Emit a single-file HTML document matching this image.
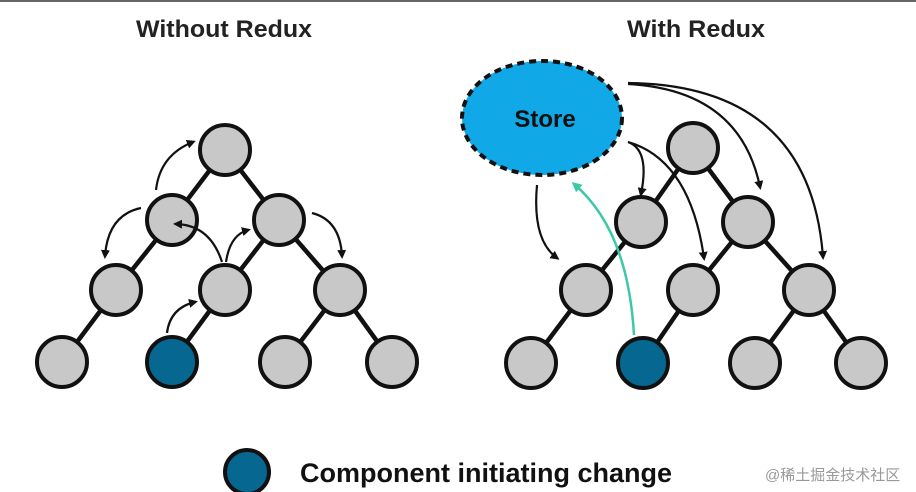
<!DOCTYPE html>
<html><head><style>
html,body{margin:0;padding:0;background:#fff;}
svg{display:block;}
text{font-family:"Liberation Sans",sans-serif;font-weight:bold;}
</style></head><body>
<svg width="916" height="492" viewBox="0 0 916 492" xmlns="http://www.w3.org/2000/svg">
<defs>
<marker id="a" markerWidth="9" markerHeight="9" refX="6" refY="4.5" orient="auto" markerUnits="userSpaceOnUse"><path d="M0,0 L9,4.5 L0,9 z" fill="#111"/></marker>
<marker id="t" markerWidth="10" markerHeight="10" refX="7" refY="5" orient="auto" markerUnits="userSpaceOnUse"><path d="M0,0 L10,5 L0,10 z" fill="#3cc9a8"/></marker>
</defs>
<rect x="0" y="0" width="916" height="2" fill="#666"/>
<text x="224" y="37" font-size="24" text-anchor="middle" fill="#222" textLength="176" lengthAdjust="spacingAndGlyphs">Without Redux</text>
<text x="696" y="37" font-size="24" text-anchor="middle" fill="#222" textLength="138" lengthAdjust="spacingAndGlyphs">With Redux</text>
<g stroke="#111" stroke-width="4.5">
<line x1="225" y1="150" x2="172" y2="220"/><line x1="225" y1="150" x2="279" y2="220"/>
<line x1="172" y1="220" x2="116" y2="290"/><line x1="279" y1="220" x2="225" y2="290"/><line x1="279" y1="220" x2="340" y2="290"/>
<line x1="116" y1="290" x2="62" y2="362"/><line x1="225" y1="290" x2="172" y2="362"/>
<line x1="340" y1="290" x2="285" y2="362"/><line x1="340" y1="290" x2="392" y2="362"/>
<line x1="693" y1="148" x2="641" y2="222"/><line x1="693" y1="148" x2="748" y2="222"/>
<line x1="641" y1="222" x2="586" y2="290"/><line x1="748" y1="222" x2="693" y2="290"/><line x1="748" y1="222" x2="809" y2="290"/>
<line x1="586" y1="290" x2="531" y2="363"/><line x1="693" y1="290" x2="643" y2="363"/>
<line x1="809" y1="290" x2="755" y2="363"/><line x1="809" y1="290" x2="861" y2="363"/>
</g>
<g stroke="#111" stroke-width="4" fill="#c8c8c8">
<circle cx="225" cy="150" r="25"/><circle cx="172" cy="220" r="25"/><circle cx="279" cy="220" r="25"/>
<circle cx="116" cy="290" r="25"/><circle cx="225" cy="290" r="25"/><circle cx="340" cy="290" r="25"/>
<circle cx="62" cy="362" r="25"/><circle cx="172" cy="362" r="25" fill="#066890"/><circle cx="285" cy="362" r="25"/><circle cx="392" cy="362" r="25"/>
<circle cx="693" cy="148" r="25"/><circle cx="641" cy="222" r="25"/><circle cx="748" cy="222" r="25"/>
<circle cx="586" cy="290" r="25"/><circle cx="693" cy="290" r="25"/><circle cx="809" cy="290" r="25"/>
<circle cx="531" cy="363" r="25"/><circle cx="643" cy="363" r="25" fill="#066890"/><circle cx="755" cy="363" r="25"/><circle cx="861" cy="363" r="25"/>
</g>
<g stroke="#111" stroke-width="2.2" fill="none" marker-end="url(#a)">
<path d="M156,190 Q160,155 193,142"/>
<path d="M141,208 Q108,215 105,256"/>
<path d="M222,262 Q210,225 176,224"/>
<path d="M226,262 Q230,235 248,230"/>
<path d="M167,333 Q170,308 195,302"/>
<path d="M312,213 Q340,220 342,256"/>
<path d="M537,185 Q532,240 557,258"/>
<path d="M628,142 Q650,150 641,194"/>
<path d="M628,142 Q690,160 704,258"/>
<path d="M628,84 Q740,90 760,187"/>
<path d="M628,83 Q810,85 823,257"/>
</g>
<path d="M634,335 Q628,230 574,184" stroke="#3cc9a8" stroke-width="2.5" fill="none" marker-end="url(#t)"/>
<ellipse cx="542" cy="118" rx="80" ry="57" fill="#10a8e6" stroke="#111" stroke-width="4" stroke-dasharray="7,5"/>
<text x="545" y="127" font-size="24" text-anchor="middle" fill="#111">Store</text>
<circle cx="247" cy="472" r="22" fill="#066890" stroke="#111" stroke-width="4"/>
<text x="300" y="482" font-size="27" fill="#111" textLength="372" lengthAdjust="spacingAndGlyphs">Component initiating change</text>
<text x="765" y="480" font-size="15" fill="#999" style="font-weight:normal;font-family:'Liberation Sans','Noto Sans CJK SC',sans-serif">@稀土掘金技术社区</text>
</svg>
</body></html>
